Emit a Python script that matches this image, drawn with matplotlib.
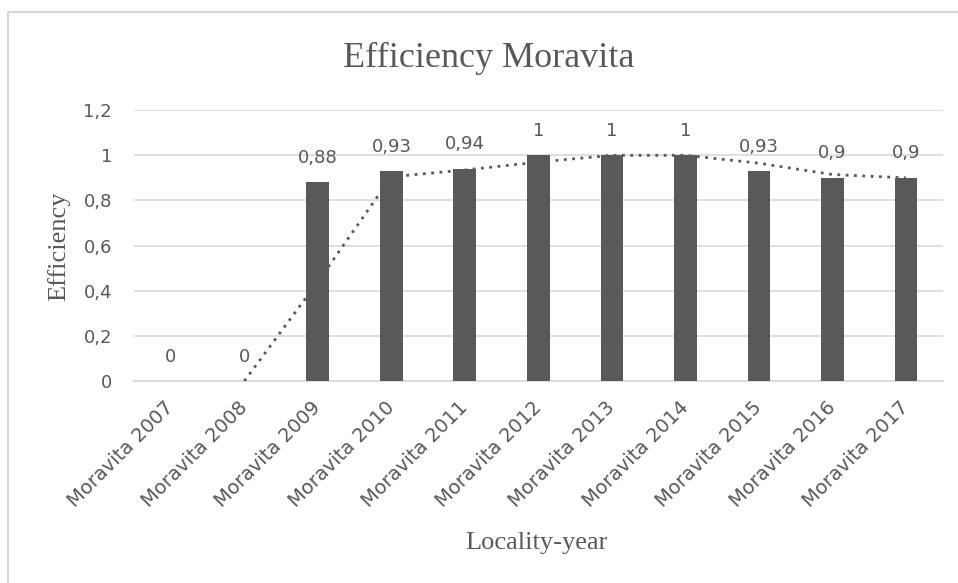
import matplotlib.pyplot as plt
from matplotlib.patches import Rectangle

# Data
years = ["Moravita 2007", "Moravita 2008", "Moravita 2009", "Moravita 2010",
         "Moravita 2011", "Moravita 2012", "Moravita 2013", "Moravita 2014",
         "Moravita 2015", "Moravita 2016", "Moravita 2017"]
efficiency = [0, 0, 0.88, 0.93, 0.94, 1, 1, 1, 0.93, 0.9, 0.9]
# 2-period moving average trend line (starts at 2008)
trend = [0, 0.44, 0.905, 0.935, 0.97, 1, 1, 0.965, 0.915, 0.9]
y_ticks = [0, 0.2, 0.4, 0.6, 0.8, 1, 1.2]

GRAY = '#595959'
SANS = 'DejaVu Sans'
SERIF = 'Liberation Serif'

fig = plt.figure(figsize=(9.58, 5.83), dpi=100)
ax = fig.add_axes([0.14, 0.3465, 0.844, 0.4645])

# outer chart frame
fig.patches.append(Rectangle((0.008, -0.05), 1.2, 0.05 + 0.979, transform=fig.transFigure,
                             fill=False, edgecolor='#d9d9d9', linewidth=1.5))

x = list(range(len(years)))
ax.bar(x, efficiency, width=0.31, color=GRAY, zorder=3)
ax.plot(x[1:], trend, linestyle=(0, (1, 2)), color=GRAY, linewidth=2, zorder=4)

for xi, v in zip(x, efficiency):
    label = f'{v:g}'.replace('.', ',')
    ax.annotate(label, (xi, v), xytext=(0, 14), textcoords='offset points',
                ha='center', va='baseline', fontsize=13, color=GRAY, family=SANS)

ax.set_xlim(-0.5, len(years) - 0.5)
ax.set_ylim(0, 1.2)
ax.set_yticks(y_ticks)
ax.set_yticklabels([f'{t:g}'.replace('.', ',') for t in y_ticks],
                   fontsize=13, color=GRAY, family=SANS)
ax.set_xticks(x)
ax.set_xticklabels(years, rotation=45, ha='right', va='center', rotation_mode='anchor',
                   fontsize=14, color=GRAY, family=SANS)
ax.tick_params(length=0)
ax.tick_params(axis='y', pad=16)
ax.tick_params(axis='x', pad=17)

ax.grid(axis='y', color='#d9d9d9', linewidth=1.2, zorder=0)
for s in ['top', 'right', 'left']:
    ax.spines[s].set_visible(False)
ax.spines['bottom'].set_color('#d9d9d9')
ax.spines['bottom'].set_linewidth(1.2)

fig.text(0.0616, 0.578, 'Efficiency', rotation=90, ha='center', va='center',
         fontsize=19, color=GRAY, family=SERIF)
fig.text(0.5595, 0.0686, 'Locality-year', ha='center', va='center',
         fontsize=19, color=GRAY, family=SERIF)
fig.text(0.510, 0.9005, 'Efficiency Moravita', ha='center', va='center',
         fontsize=26, color=GRAY, family=SERIF)

fig.savefig('out.png', dpi=100)
